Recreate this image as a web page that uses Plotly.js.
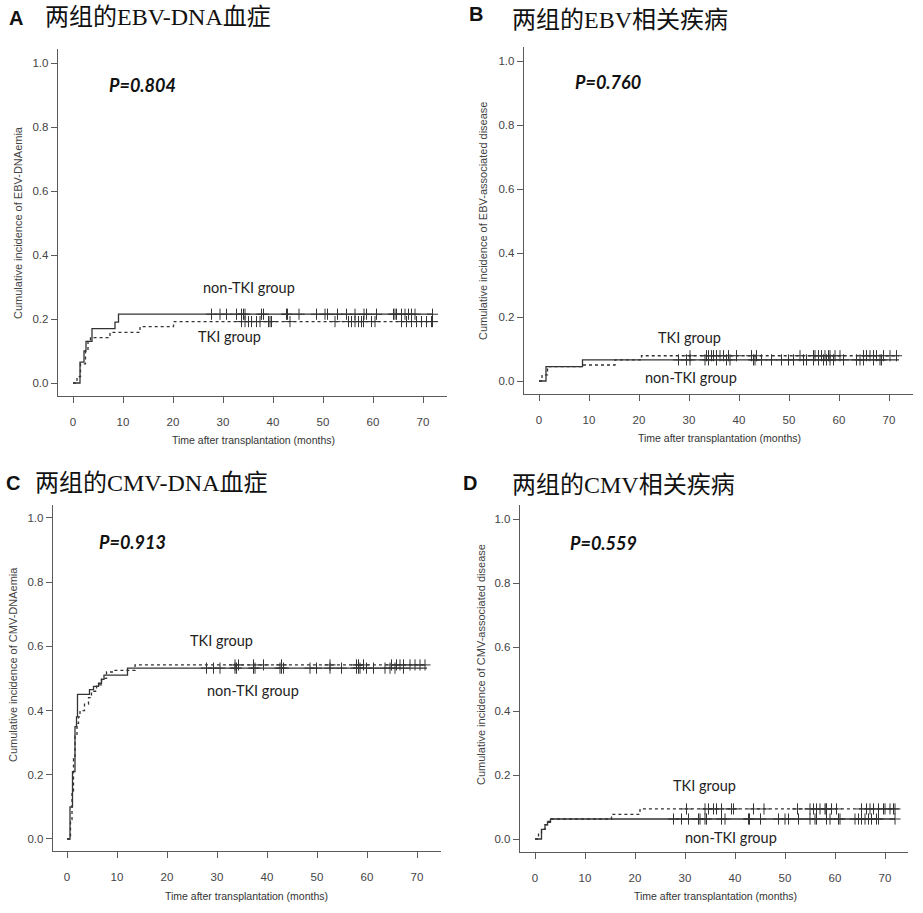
<!DOCTYPE html>
<html>
<head>
<meta charset="utf-8">
<script src="https://cdn.plot.ly/plotly-3.0.1.min.js"></script>
<style>html,body{margin:0;padding:0;background:#fff}#chart{width:923px;height:913px}</style>
</head>
<body>
<div id="chart"></div>
<script>
// ---------- DATA ----------
const panelLetters = ["A", "B", "C", "D"];
const panelTitles = ["两组的EBV-DNA血症", "两组的EBV相关疾病", "两组的CMV-DNA血症", "两组的CMV相关疾病"];
const yTitles = ["Cumulative incidence of EBV-DNAemia", "Cumulative incidence of EBV-associated disease",
                 "Cumulative incidence of CMV-DNAemia", "Cumulative incidence of CMV-associated disease"];
const xTitle = "Time after transplantation (months)";
const pValues = ["P=0.804", "P=0.760", "P=0.913", "P=0.559"];
const xTicks = [0, 10, 20, 30, 40, 50, 60, 70];
const yTicks = [0, 0.2, 0.4, 0.6, 0.8, 1.0];

// Panel A: EBV-DNAemia
const aNonTime = [0, 1.4, 2.2, 2.6, 3.8, 8.4, 9.1, 72];
const aNonCum  = [0, 0.065, 0.10, 0.13, 0.17, 0.19, 0.215, 0.215];
const aTkiTime = [0, 0.8, 1.5, 2.5, 3.0, 3.5, 7.4, 13.4, 20.1, 72];
const aTkiCum  = [0, 0.02, 0.06, 0.10, 0.13, 0.142, 0.158, 0.176, 0.192, 0.192];
const aNonCens = [27.7, 29.4, 30.7, 32.7, 33.7, 34.1, 34.4, 37.7, 38.1, 42.7, 42.9, 45.2, 48.7, 50.4, 50.9, 52.9, 54.7, 56.4, 58.2, 58.7, 60.7, 64.1, 64.4, 64.7, 65.7, 66.4, 67.1, 67.7, 68.4, 71.9];
const aTkiCens = [33.7, 34.4, 35.1, 35.7, 36.7, 37.4, 39.1, 39.4, 39.7, 43.4, 52.4, 55.1, 55.7, 56.4, 57.1, 57.7, 58.1, 59.7, 60.4, 65.7, 66.7, 67.7, 68.7, 69.7, 70.7, 71.7, 71.9];

// Panel B: EBV-associated disease
const bNonTime = [0, 1.4, 8.7, 72];
const bNonCum  = [0, 0.045, 0.066, 0.066];
const bTkiTime = [0, 0.6, 1.7, 8.7, 15.2, 20.5, 72];
const bTkiCum  = [0, 0.019, 0.045, 0.05, 0.066, 0.079, 0.079];
const bNonCens = [27.9, 29.5, 30.2, 33.2, 33.9, 35.5, 37.5, 38.2, 42.9, 43.2, 44.5, 46.5, 48.5, 49.9, 50.9, 52.9, 53.5, 54.9, 55.9, 56.9, 57.5, 58.2, 58.9, 60.9, 63.5, 64.2, 64.9, 66.9, 68.2, 68.5];
const bTkiCens = [30.2, 33.5, 33.9, 34.5, 34.9, 35.5, 36.2, 36.9, 37.9, 39.5, 42.5, 43.5, 52.2, 54.9, 55.2, 55.9, 56.5, 57.2, 57.9, 58.2, 59.2, 60.2, 64.9, 65.5, 66.2, 66.9, 67.5, 68.9, 70.2, 71.5];

// Panel C: CMV-DNAemia
const cNonTime = [0, 0.6, 1.1, 1.6, 1.9, 2.1, 4.5, 5.3, 6.3, 6.9, 7.4, 12.1, 72];
const cNonCum  = [0, 0.10, 0.21, 0.35, 0.38, 0.45, 0.465, 0.475, 0.485, 0.497, 0.51, 0.532, 0.532];
const cTkiTime = [0, 0.7, 1.0, 1.3, 1.6, 2.0, 2.3, 2.6, 3.5, 4.3, 4.9, 5.9, 6.9, 7.9, 9.3, 13.6, 72];
const cTkiCum  = [0, 0.06, 0.15, 0.25, 0.32, 0.36, 0.38, 0.40, 0.42, 0.44, 0.46, 0.48, 0.50, 0.52, 0.525, 0.542, 0.542];
const cNonCens = [27.9, 29.3, 30.6, 33.6, 33.9, 37.3, 37.6, 42.6, 42.9, 43.3, 48.6, 49.9, 52.6, 54.9, 57.9, 58.3, 58.6, 59.9, 61.3, 63.6, 64.6, 65.6, 67.3];
const cTkiCens = [33.6, 34.3, 37.3, 39.3, 42.9, 52.6, 57.9, 58.3, 59.3, 64.9, 65.9, 66.6, 67.3, 68.6, 69.6, 70.6, 71.6];

// Panel D: CMV-associated disease
const dNonTime = [0, 1.3, 2.0, 2.5, 3.1, 72];
const dNonCum  = [0, 0.03, 0.044, 0.052, 0.0625, 0.0625];
const dTkiTime = [0, 0.7, 1.3, 2.0, 2.5, 3.0, 15.3, 21.0, 72];
const dTkiCum  = [0, 0.015, 0.03, 0.045, 0.055, 0.0625, 0.077, 0.094, 0.094];
const dNonCens = [27.7, 29.3, 30.7, 32.7, 33.0, 34.0, 34.3, 37.3, 38.0, 42.7, 42.9, 45.1, 48.7, 50.0, 50.7, 52.7, 55.0, 56.0, 56.3, 58.3, 59.0, 60.7, 61.0, 64.0, 64.7, 65.3, 66.0, 66.7, 67.3, 68.3, 68.7, 72.0];
const dTkiCens = [30.3, 34.0, 34.7, 35.7, 36.3, 37.3, 39.3, 39.7, 43.7, 45.8, 52.5, 55.0, 55.7, 56.3, 57.0, 58.0, 58.2, 58.3, 59.3, 60.3, 65.3, 66.3, 67.0, 67.7, 68.7, 69.7, 70.0, 71.0, 71.7, 72.0];

// ---------- LAYOUT HELPERS ----------
const W = 923, H = 913;
const px = x => x / W;
const py = y => 1 - y / H;

const panels = [
  {nt: aNonTime, nc: aNonCum, tt: aTkiTime, tc: aTkiCum, ncens: aNonCens, tcens: aTkiCens,
   dom: {x0: 58, x1: 447, y0: 49, y1: 396}, xr: [-3, 74.8], yr: [-0.0406, 1.044],
   letter: {x: 16, y: 18}, title: {x: 43, y: 17}, ytitle: {x: 18, y: 223},
   xtitle: {x: 253, y: 440}, p: {x: 6.8, y: 0.93},
   labels: [{t: "non-TKI group", x: 35.2, y: 0.297}, {t: "TKI group", x: 31.3, y: 0.144}]},
  {nt: bNonTime, nc: bNonCum, tt: bTkiTime, tc: bTkiCum, ncens: bNonCens, tcens: bTkiCens,
   dom: {x0: 524, x1: 913, y0: 47, y1: 394}, xr: [-3, 74.8], yr: [-0.0406, 1.044],
   letter: {x: 476, y: 14}, title: {x: 510, y: 20}, ytitle: {x: 483, y: 221},
   xtitle: {x: 719, y: 438}, p: {x: 6.8, y: 0.934},
   labels: [{t: "TKI group", x: 30.1, y: 0.1375}, {t: "non-TKI group", x: 30.4, y: 0.0125}]},
  {nt: cNonTime, nc: cNonCum, tt: cTkiTime, tc: cTkiCum, ncens: cNonCens, tcens: cTkiCens,
   dom: {x0: 53, x1: 441, y0: 505, y1: 851}, xr: [-2.8, 74.8], yr: [-0.0374, 1.04],
   letter: {x: 13, y: 483}, title: {x: 33, y: 483}, ytitle: {x: 13, y: 665},
   xtitle: {x: 247, y: 896}, p: {x: 6.0, y: 0.925},
   labels: [{t: "TKI group", x: 30.8, y: 0.617}, {t: "non-TKI group", x: 37.2, y: 0.461}]},
  {nt: dNonTime, nc: dNonCum, tt: dTkiTime, tc: dTkiCum, ncens: dNonCens, tcens: dTkiCens,
   dom: {x0: 520, x1: 908, y0: 505, y1: 852}, xr: [-3, 74.6], yr: [-0.0406, 1.044],
   letter: {x: 470, y: 483}, title: {x: 510, y: 485}, ytitle: {x: 481, y: 665},
   xtitle: {x: 715, y: 896}, p: {x: 6.6, y: 0.925},
   labels: [{t: "TKI group", x: 33.9, y: 0.166}, {t: "non-TKI group", x: 39.1, y: 0.006}]}
];

function stepAt(times, vals, t) {
  let v = vals[0];
  for (let i = 0; i < times.length; i++) { if (times[i] <= t) v = vals[i]; }
  return v;
}

const lineCol = "#333";
const axisCol = "#5a5a5a";
const traces = [];
const layout = {
  width: W, height: H,
  margin: {l: 0, r: 0, t: 0, b: 0},
  paper_bgcolor: "#fff", plot_bgcolor: "#fff",
  showlegend: false,
  annotations: []
};

panels.forEach((p, i) => {
  const n = i + 1;
  const xa = n === 1 ? "x" : "x" + n;
  const ya = n === 1 ? "y" : "y" + n;
  const xKey = n === 1 ? "xaxis" : "xaxis" + n;
  const yKey = n === 1 ? "yaxis" : "yaxis" + n;

  traces.push({x: p.nt, y: p.nc, xaxis: xa, yaxis: ya, type: "scatter", mode: "lines",
    line: {shape: "hv", color: lineCol, width: 1.3}, hoverinfo: "skip"});
  traces.push({x: p.tt, y: p.tc, xaxis: xa, yaxis: ya, type: "scatter", mode: "lines",
    line: {shape: "hv", color: lineCol, width: 1.3, dash: "3px,3px"}, hoverinfo: "skip"});
  traces.push({x: p.ncens, y: p.ncens.map(t => stepAt(p.nt, p.nc, t)), xaxis: xa, yaxis: ya,
    type: "scatter", mode: "markers", hoverinfo: "skip",
    marker: {symbol: "cross-thin", size: 8, line: {color: lineCol, width: 1}}});
  traces.push({x: p.tcens, y: p.tcens.map(t => stepAt(p.tt, p.tc, t)), xaxis: xa, yaxis: ya,
    type: "scatter", mode: "markers", hoverinfo: "skip",
    marker: {symbol: "cross-thin", size: 8, line: {color: lineCol, width: 1}}});

  layout[xKey] = {
    domain: [px(p.dom.x0), px(p.dom.x1)], anchor: ya, range: p.xr,
    tickvals: xTicks, ticks: "outside", ticklen: 6, tickwidth: 1, tickcolor: axisCol,
    showline: true, linecolor: axisCol, linewidth: 1.3, showgrid: false, zeroline: false,
    ticklabelstandoff: 9,
    tickfont: {family: "Liberation Sans, Arial, sans-serif", size: 11.5, color: "#444"}
  };
  layout[yKey] = {
    domain: [py(p.dom.y1), py(p.dom.y0)], anchor: xa, range: p.yr,
    tickvals: yTicks, tickformat: ".1f", ticks: "outside", ticklen: 6, tickwidth: 1, tickcolor: axisCol,
    showline: true, linecolor: axisCol, linewidth: 1.3, showgrid: false, zeroline: false,
    tickfont: {family: "Liberation Sans, Arial, sans-serif", size: 11.5, color: "#444"}
  };

  const A = layout.annotations;
  A.push({text: panelLetters[i], xref: "paper", yref: "paper", x: px(p.letter.x), y: py(p.letter.y),
    xanchor: "center", yanchor: "middle", showarrow: false,
    font: {family: "Liberation Sans, Arial, sans-serif", size: 20, color: "#111", weight: "bold"}});
  A.push({text: panelTitles[i], xref: "paper", yref: "paper", x: px(p.title.x), y: py(p.title.y),
    xanchor: "left", yanchor: "middle", showarrow: false,
    font: {family: "Liberation Serif, 'Noto Sans CJK SC', serif", size: 24, color: "#111"}});
  A.push({text: yTitles[i], xref: "paper", yref: "paper", x: px(p.ytitle.x), y: py(p.ytitle.y),
    xanchor: "center", yanchor: "middle", textangle: -90, showarrow: false,
    font: {family: "Liberation Sans, Arial, sans-serif", size: 11, color: "#444"}});
  A.push({text: xTitle, xref: "paper", yref: "paper", x: px(p.xtitle.x), y: py(p.xtitle.y),
    xanchor: "center", yanchor: "middle", showarrow: false,
    font: {family: "Liberation Sans, Arial, sans-serif", size: 10.5, color: "#333"}});
  A.push({text: "<b><i>" + pValues[i] + "</i></b>", xref: xa, yref: ya, x: p.p.x, y: p.p.y,
    xanchor: "left", yanchor: "middle", showarrow: false,
    font: {family: "Lato, 'Open Sans', sans-serif", size: 18, color: "#111"}});
  p.labels.forEach(l => {
    A.push({text: l.t, xref: xa, yref: ya, x: l.x, y: l.y, xanchor: "center", yanchor: "middle",
      showarrow: false, font: {family: "Lato, 'Open Sans', sans-serif", size: 14.5, color: "#222"}});
  });
});

Plotly.newPlot("chart", traces, layout, {staticPlot: true, displayModeBar: false});
</script>
</body>
</html>
